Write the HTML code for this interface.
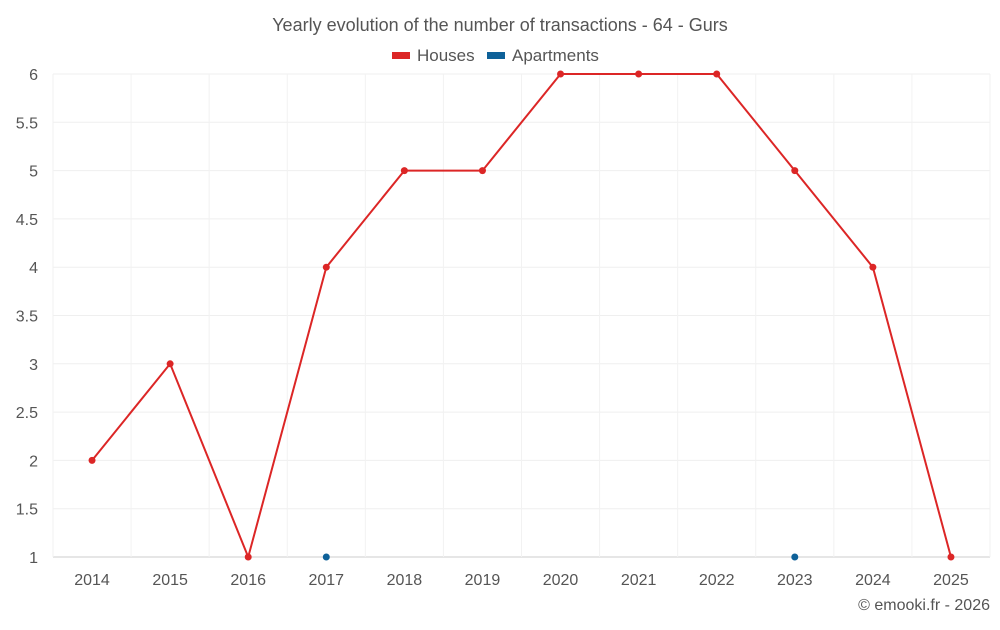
<!DOCTYPE html>
<html><head><meta charset="utf-8"><style>
body{margin:0;background:#fff;font-family:"Liberation Sans",sans-serif;}
svg text{font-family:"Liberation Sans",sans-serif;fill:#555;}
</style></head><body>
<svg width="1000" height="625">
<text x="500" y="31" text-anchor="middle" font-size="18">Yearly evolution of the number of transactions - 64 - Gurs</text>
<g>
<g><rect x="392" y="52" width="18" height="7" fill="#dc2626"/><text x="417" y="61" font-size="17">Houses</text></g>
<g><rect x="487" y="52" width="18" height="7" fill="#0e6199"/><text x="512" y="61" font-size="17">Apartments</text></g>
</g>
<g id="grid"></g><g id="axes"></g><g id="series"></g>
<text x="990" y="610" text-anchor="end" font-size="16">© emooki.fr - 2026</text>
</svg>
<script>
const categories=["2014","2015","2016","2017","2018","2019","2020","2021","2022","2023","2024","2025"];
const houses=[2,3,1,4,5,5,6,6,6,5,4,1];
const apartments=[null,null,null,1,null,null,null,null,null,1,null,null];
const yTicks=[1,1.5,2,2.5,3,3.5,4,4.5,5,5.5,6];
const L=53,R=990,T=74,B=557,yMin=1,yMax=6;
const bw=(R-L)/categories.length;
const x=i=>L+bw*(i+0.5);
const y=v=>B-(v-yMin)/(yMax-yMin)*(B-T);
const NS="http://www.w3.org/2000/svg";
function mk(p,t,a){const e=document.createElementNS(NS,t);for(const k in a)e.setAttribute(k,a[k]);p.appendChild(e);return e;}
const grid=document.getElementById('grid'),axes=document.getElementById('axes'),ser=document.getElementById('series');
yTicks.forEach(v=>{
 const l=mk(grid,'line',{x1:L,x2:R,y1:y(v),y2:y(v),stroke:v===yMin?'#ccc':'#efefef'});
 
 
 const t=mk(axes,'text',{x:38,y:y(v)+6,'text-anchor':'end','font-size':16});
 t.textContent=v;
 
 
});
for(let i=0;i<=categories.length;i++){
 const l=mk(grid,'line',{x1:L+bw*i,x2:L+bw*i,y1:T,y2:B,stroke:'#f2f2f2'});
 
 
}
categories.forEach((c,i)=>{
 const t=mk(axes,'text',{x:x(i),y:585,'text-anchor':'middle','font-size':16});
 t.textContent=c;
 
 
});
const pl=mk(ser,'polyline',{points:houses.map((v,i)=>x(i)+','+y(v)).join(' '),fill:'none',stroke:'#dc2626','stroke-width':2});


houses.forEach((v,i)=>{
 const c=mk(ser,'circle',{cx:x(i),cy:y(v),r:3.5,fill:'#dc2626'});
 
 
});
apartments.forEach((v,i)=>{
 if(v==null)return;
 const c=mk(ser,'circle',{cx:x(i),cy:y(v),r:3.5,fill:'#0e6199'});
 
 
});
</script>
</body></html>
